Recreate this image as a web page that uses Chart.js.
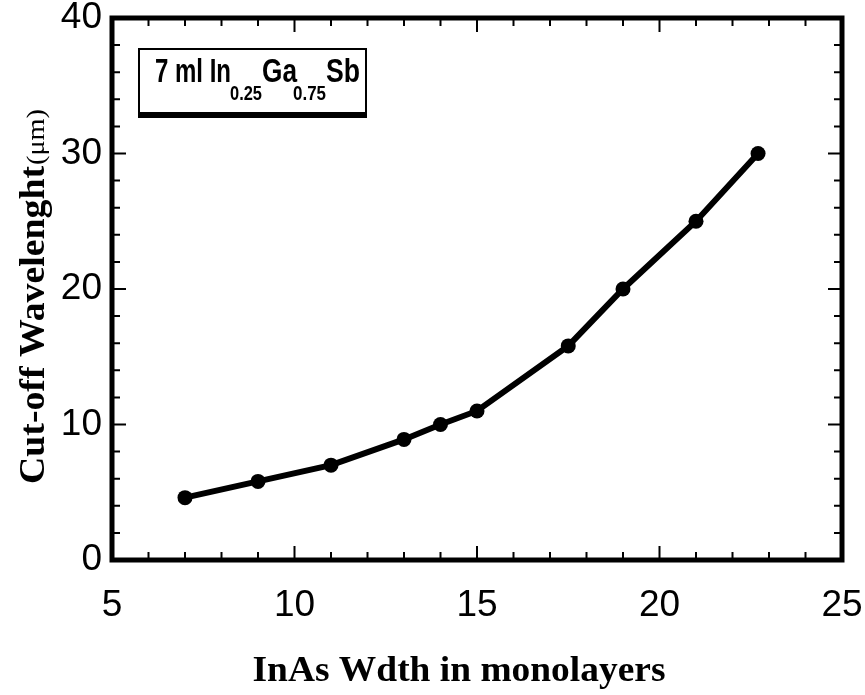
<!DOCTYPE html>
<html><head><meta charset="utf-8">
<script src="https://cdn.jsdelivr.net/npm/chart.js@4.4.1/dist/chart.umd.min.js"></script>
<style>html,body{margin:0;padding:0;background:#fff}#wrap{width:865px;height:695px}</style>
</head><body><div id="wrap"><canvas id="c" width="865" height="695"></canvas></div>
<script>
// ---- data ----
const widths = [7, 9, 11, 13, 14, 15, 17.5, 19, 21, 22.7];
const cutoff = [4.6, 5.8, 7.0, 8.9, 10.0, 11.0, 15.8, 20.0, 25.0, 30.0];
const xTicks = [5, 10, 15, 20, 25];
const yTicks = [0, 10, 20, 30, 40];
const xTitle = 'InAs Wdth in monolayers';
const yTitleMain = 'Cut-off Wavelenght';
const yTitleUnit = '(μm)';
const legendText = ['7 ml In', '0.25', 'Ga', '0.75', 'Sb'];

// ---- layout / styles ----
const legendLayout = [
  {x:155, w:76, size:33, base:82},
  {x:230, w:32, size:21, base:100},
  {x:262, w:35, size:33, base:82},
  {x:293, w:33, size:21, base:100},
  {x:326, w:34, size:33, base:82}
];
const SANS = "'Liberation Sans Narrow', 'Liberation Sans', Arial, sans-serif";
const SERIF = "'Liberation Serif', 'Times New Roman', serif";

function fitText(ctx, txt, x, y, w, font, align) {
  ctx.font = font;
  const m = ctx.measureText(txt).width;
  ctx.save();
  ctx.translate(x, y);
  ctx.scale(w / m, 1);
  ctx.textAlign = align || 'left';
  ctx.fillText(txt, 0, 0);
  ctx.restore();
}

const framePlugin = {
  id: 'frame',
  afterDraw(chart) {
    const ctx = chart.ctx, a = chart.chartArea;
    const xs = chart.scales.x, ys = chart.scales.y;
    ctx.save();
    ctx.strokeStyle = '#000';
    ctx.fillStyle = '#000';
    ctx.lineWidth = 2;
    ctx.beginPath();
    for (let v = xs.min; v <= xs.max + 1e-9; v += 1) {
      const p = xs.getPixelForValue(v);
      const len = (Math.round(v) % 5 === 0) ? 14 : 8;
      ctx.moveTo(p, a.bottom); ctx.lineTo(p, a.bottom - len);
      ctx.moveTo(p, a.top); ctx.lineTo(p, a.top + len);
    }
    for (let v = ys.min; v <= ys.max + 1e-9; v += 2) {
      const p = ys.getPixelForValue(v);
      const len = (Math.round(v) % 10 === 0) ? 14 : 8;
      ctx.moveTo(a.left, p); ctx.lineTo(a.left + len, p);
      ctx.moveTo(a.right, p); ctx.lineTo(a.right - len, p);
    }
    ctx.stroke();
    ctx.lineWidth = 5;
    ctx.strokeRect(a.left, a.top, a.right - a.left, a.bottom - a.top);

    // legend box
    ctx.fillStyle = '#fff';
    ctx.fillRect(138, 48, 229, 68);
    ctx.lineWidth = 2;
    ctx.strokeRect(139, 49, 227, 66);
    ctx.fillStyle = '#000';
    ctx.fillRect(138, 112, 229, 6);
    legendText.forEach((t, i) => {
      const L = legendLayout[i];
      fitText(ctx, t, L.x, L.base, L.w, 'bold ' + L.size + "px 'Liberation Sans', Arial, sans-serif");
    });

    // axis titles
    ctx.fillStyle = '#000';
    ctx.textBaseline = 'alphabetic';
    fitText(ctx, xTitle, 459, 681, 413, 'bold 36px ' + SERIF, 'center');
    ctx.save();
    ctx.translate(44, 0);
    ctx.rotate(-Math.PI / 2);
    fitText(ctx, yTitleMain, -484, 0, 318, 'bold 36px ' + SERIF, 'left');
    fitText(ctx, yTitleUnit, -165, 0, 56, '26px ' + SERIF, 'left');
    ctx.restore();
    ctx.restore();
  }
};

new Chart(document.getElementById('c'), {
  type: 'line',
  data: {
    datasets: [{
      data: widths.map((w, i) => ({x: w, y: cutoff[i]})),
      borderColor: '#000',
      backgroundColor: '#000',
      borderWidth: 6,
      pointRadius: 7.5,
      pointHoverRadius: 7.5,
      pointBorderWidth: 0,
      tension: 0,
      fill: false
    }]
  },
  options: {
    responsive: false,
    animation: false,
    events: [],
    layout: {padding: {top: 18, right: 23, left: 0, bottom: 0}},
    plugins: {legend: {display: false}, tooltip: {enabled: false}},
    scales: {
      x: {
        type: 'linear', min: 5, max: 25,
        afterBuildTicks(s) { s.ticks = xTicks.map(v => ({value: v})); },
        ticks: {color: '#000', font: {family: SANS, size: 37}, padding: 24, maxRotation: 0,
                callback: v => String(v)},
        grid: {display: false, drawTicks: false},
        border: {display: false},
        afterFit(s) { s.height = 135; s.paddingLeft = 0; s.paddingRight = 0; }
      },
      y: {
        type: 'linear', min: 0, max: 40,
        afterBuildTicks(s) { s.ticks = yTicks.map(v => ({value: v})); },
        ticks: {color: '#000', font: {family: SANS, size: 37}, padding: 10,
                callback: v => String(v)},
        grid: {display: false, drawTicks: false},
        border: {display: false},
        afterFit(s) { s.width = 112; s.paddingTop = 0; s.paddingBottom = 0; }
      }
    }
  },
  plugins: [framePlugin]
});
</script></body></html>
